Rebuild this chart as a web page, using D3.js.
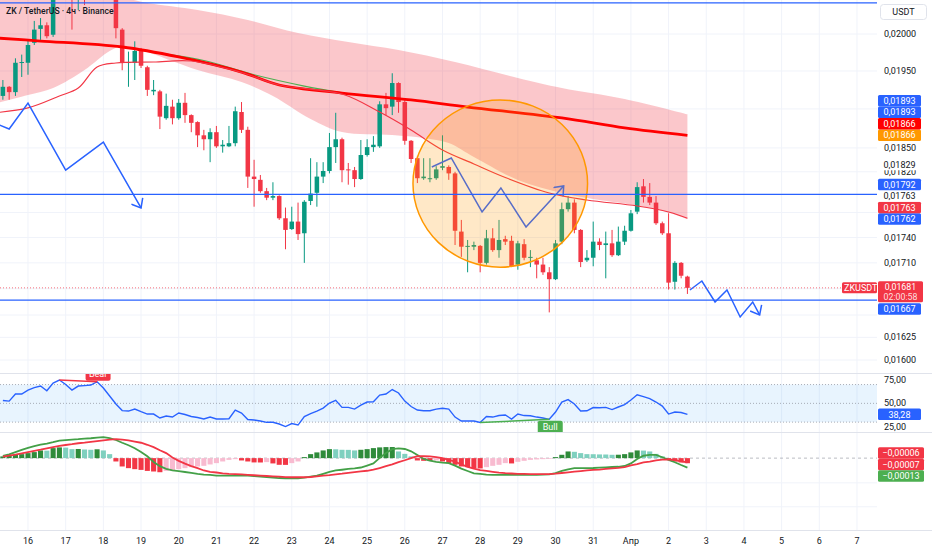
<!DOCTYPE html>
<html>
<head>
<meta charset="utf-8">
<script src="https://cdn.jsdelivr.net/npm/d3@7"></script>
<style>
  body { margin: 0; background: #fff; }
  svg { display: block; font-family: Roboto, "Noto Sans", "DejaVu Sans", sans-serif; }
</style>
</head>
<body>
<script>
// ---- data ----
// 4h bars are counted from 16 Mar 00:00 UTC, first candle is bar -4
var barZero = Date.UTC(2025, 2, 16);
var barMs = 4 * 3600 * 1000;
var firstBar = -4;

// [open, high, low, close]
var ohlc = [
  // 15 Mar
  [0.01917,0.01938,0.01912,0.01929],[0.01929,0.01930,0.01912,0.01922],[0.01922,0.01967,0.01917,0.01961],[0.01961,0.01972,0.01942,0.01962],
  // 16 Mar
  [0.01961,0.01992,0.01945,0.01985],[0.01988,0.02018,0.01985,0.02006],[0.02007,0.02022,0.01992,0.02012],[0.02012,0.02016,0.01994,0.01997],[0.01999,0.02082,0.01996,0.02068],[0.02068,0.02104,0.02064,0.02090],
  // 17 Mar
  [0.02090,0.02111,0.02068,0.02075],[0.02075,0.02082,0.02006,0.02051],[0.02051,0.02075,0.02033,0.02064],[0.02064,0.02075,0.02040,0.02054],[0.02054,0.02090,0.02050,0.02082],[0.02082,0.02111,0.02075,0.02097],
  // 18 Mar
  [0.02097,0.02104,0.02061,0.02075],[0.02075,0.02090,0.02051,0.02058],[0.02058,0.02061,0.01994,0.02008],[0.02006,0.02008,0.01951,0.01961],[0.01961,0.01976,0.01929,0.01962],[0.01961,0.01990,0.01938,0.01977],
  // 19 Mar
  [0.01978,0.01981,0.01954,0.01957],[0.01955,0.01957,0.01917,0.01925],[0.01923,0.01938,0.01918,0.01925],[0.01923,0.01925,0.01874,0.01890],[0.01888,0.01920,0.01886,0.01904],[0.01903,0.01912,0.01880,0.01888],
  // 20 Mar
  [0.01888,0.01913,0.01886,0.01908],[0.01908,0.01921,0.01882,0.01892],[0.01892,0.01893,0.01870,0.01882],[0.01883,0.01884,0.01851,0.01866],[0.01866,0.01873,0.01847,0.01861],[0.01861,0.01875,0.01832,0.01870],
  // 21 Mar
  [0.01870,0.01878,0.01850,0.01852],[0.01852,0.01860,0.01844,0.01854],[0.01852,0.01878,0.01851,0.01856],[0.01856,0.01903,0.01852,0.01897],[0.01896,0.01909,0.01869,0.01873],[0.01873,0.01877,0.01800,0.01814],
  // 22 Mar
  [0.01814,0.01835,0.01777,0.01811],[0.01810,0.01816,0.01794,0.01796],[0.01796,0.01800,0.01785,0.01788],[0.01788,0.01807,0.01785,0.01790],[0.01790,0.01791,0.01761,0.01763],[0.01763,0.01776,0.01726,0.01749],
  // 23 Mar
  [0.01750,0.01777,0.01749,0.01759],[0.01759,0.01782,0.01737,0.01744],[0.01745,0.01785,0.01710,0.01783],[0.01784,0.01837,0.01779,0.01793],[0.01794,0.01832,0.01777,0.01814],[0.01814,0.01832,0.01806,0.01821],
  // 24 Mar
  [0.01821,0.01869,0.01818,0.01851],[0.01851,0.01895,0.01831,0.01861],[0.01861,0.01863,0.01807,0.01822],[0.01823,0.01831,0.01804,0.01822],[0.01822,0.01826,0.01801,0.01811],[0.01811,0.01860,0.01810,0.01841],
  // 25 Mar
  [0.01841,0.01861,0.01839,0.01851],[0.01851,0.01865,0.01845,0.01854],[0.01852,0.01910,0.01850,0.01906],[0.01906,0.01921,0.01892,0.01901],[0.01903,0.01947,0.01892,0.01934],[0.01934,0.01935,0.01895,0.01909],
  // 26 Mar
  [0.01909,0.01912,0.01854,0.01859],[0.01859,0.01860,0.01831,0.01836],[0.01837,0.01840,0.01806,0.01812],[0.01812,0.01837,0.01810,0.01814],[0.01811,0.01837,0.01807,0.01812],[0.01812,0.01827,0.01810,0.01823],
  // 27 Mar
  [0.01825,0.01866,0.01822,0.01827],[0.01826,0.01828,0.01810,0.01818],[0.01818,0.01820,0.01731,0.01748],[0.01747,0.01761,0.01717,0.01729],[0.01729,0.01737,0.01699,0.01730],[0.01729,0.01735,0.01725,0.01731],
  // 28 Mar
  [0.01730,0.01731,0.01699,0.01710],[0.01710,0.01749,0.01708,0.01739],[0.01739,0.01751,0.01723,0.01725],[0.01725,0.01761,0.01716,0.01737],[0.01738,0.01742,0.01731,0.01735],[0.01736,0.01742,0.01705,0.01706],
  // 29 Mar
  [0.01708,0.01736,0.01702,0.01733],[0.01732,0.01738,0.01713,0.01716],[0.01716,0.01725,0.01705,0.01717],[0.01713,0.01716,0.01692,0.01708],[0.01708,0.01716,0.01696,0.01699],[0.01699,0.01705,0.01653,0.01691],
  // 30 Mar
  [0.01691,0.01737,0.01690,0.01733],[0.01735,0.01782,0.01732,0.01774],[0.01774,0.01790,0.01771,0.01782],[0.01782,0.01786,0.01745,0.01749],[0.01749,0.01750,0.01705,0.01711],[0.01713,0.01725,0.01711,0.01716],
  // 31 Mar
  [0.01716,0.01759,0.01706,0.01735],[0.01735,0.01739,0.01725,0.01731],[0.01731,0.01747,0.01692,0.01733],[0.01733,0.01749,0.01717,0.01719],[0.01719,0.01753,0.01718,0.01735],[0.01735,0.01754,0.01731,0.01748],
  // 1 Apr
  [0.01748,0.01773,0.01747,0.01769],[0.01771,0.01807,0.01768,0.01801],[0.01802,0.01811,0.01782,0.01789],[0.01789,0.01806,0.01779,0.01782],[0.01782,0.01790,0.01755,0.01757],[0.01757,0.01759,0.01743,0.01745],
  // 2 Apr
  [0.01745,0.01769,0.01679,0.01687],[0.01688,0.01712,0.01679,0.01710],[0.01710,0.01711,0.01692,0.01695],[0.01694,0.01695,0.01674,0.01681]
];

var rsi = [
  53.1, 52.4, 59.9, 59.9,
  64.1, 66.8, 68.4, 63.4, 71.6, 74.8,
  70, 64.1, 68.4, 68.9, 69.5, 73,
  66.3, 57.8, 49.3, 42.3, 41.8, 43.9,
  41.1, 38.6, 38.6, 34.4, 36.5, 35.4,
  39.7, 38.1, 36, 34.9, 33.3, 35.4,
  33.3, 33.3, 33.6, 42.9, 39.7, 32.8,
  32.2, 31.2, 29.8, 29.8, 28, 25.3,
  28.5, 26.9, 36, 39.1, 41.8, 45,
  50.3, 53.2, 45.7, 45.7, 43.9, 48.2,
  51.4, 51.7, 58.8, 59.9, 64.7, 61,
  52.4, 46.6, 42.9, 42.1, 42.1, 43.9,
  44.7, 43.9, 35.4, 31.2, 31.2, 31.2,
  29.6, 36, 35.4, 37, 37.6, 33.3,
  38.6, 37, 36.8, 35.4, 34.4, 33,
  40.7, 51.4, 54, 49.3, 41.8, 42.1,
  45.5, 45.3, 45.7, 43.4, 46.1, 48.7,
  53.5, 59.1, 57.2, 55.1, 51.4, 47.1,
  38.6, 40.7, 40.2, 38.28
];

// MACD values in units of 0.00001 USDT
var macdLine = [
  3.2, 5.3, 8.2, 11.3,
  14.2, 16.6, 18.5, 20.1, 21.9, 24.1,
  24.9, 25.6, 26.1, 26.8, 27.4, 28.2,
  28.9, 27.5, 25, 21.2, 17.7, 13.7,
  8.6, 2.5, -5.3, -11.1, -14.8, -17,
  -18, -19.1, -20.3, -21.6, -22.7, -23.2,
  -24.1, -24.1, -24.1, -24.1, -24.1, -24.1,
  -24.6, -25.4, -26.3, -26.8, -27.4, -27.7,
  -27.7, -27.7, -26.8, -25.4, -24.1, -21.6,
  -18.9, -17, -16, -14.9, -14, -12.9,
  -10.2, -7.3, 0.4, 7.1, 12.3, 13.4,
  12.6, 9.4, 4.3, -1.1, -3.6, -5.3,
  -6.2, -6.8, -10.4, -14.5, -17.7, -20.9,
  -21.7, -22.7, -23.1, -23.1, -23.1, -23.1,
  -23.1, -23.1, -23.1, -23.1, -22.7, -22.3,
  -20.6, -17.7, -15.5, -13.8, -13.8, -13.8,
  -13.6, -13.1, -12.6, -12.2, -11.9, -10.8,
  -7.3, -1.1, 3.3, 4.6, 4.6, 1.2,
  -2.5, -5.7, -9.5, -13
];
var signalLine = [
  2.1, 3.5, 4.8, 6.4,
  8.2, 10, 11.6, 13.4, 15.1, 16.9,
  18.1, 19.2, 20.5, 21.4, 22.5, 23.5,
  24.5, 25.6, 26.1, 25.4, 24.5, 22.8,
  21.2, 18.4, 15.1, 10.8, 6.9, 0.8,
  -3.7, -7.6, -10.9, -13.8, -17, -18.8,
  -19.8, -20.9, -21.7, -22, -22.5, -23.1,
  -23.6, -24.1, -24.6, -25, -25.6, -26.1,
  -26.3, -26.3, -26.3, -26, -25, -24.2,
  -23.4, -22.4, -21.4, -20.2, -19.2, -18.1,
  -17.4, -15.9, -13.6, -11.1, -8.6, -5.5,
  -2.9, -0.1, 2.6, 2.9, 2.4, 1.5,
  0, -2.4, -4.8, -8.7, -11.9, -14.5,
  -16.5, -17.6, -18.8, -19.9, -20.7, -21.2,
  -21.6, -21.7, -21.9, -22, -22.1, -22,
  -21.4, -20.5, -19.5, -18.5, -17.8, -17,
  -16.3, -15.8, -14.9, -14.1, -13.3, -12.3,
  -10, -8.3, -5.9, -4.7, -3, -2,
  -1.8, -2.8, -4.3, -6
];
var macdHist = [
  2.4, 3.2, 4.6, 5.5,
  6.9, 8.3, 10.6, 10.3, 13.8, 14.8,
  14.5, 12.4, 12.6, 11.9, 11.5, 12.2,
  10.6, 5.5, -4.6, -11.5, -13.8, -15.2,
  -16.2, -17.6, -18.4, -19.4, -17.6, -16.6,
  -15.2, -13.8, -12.4, -11.5, -10.6, -8.7,
  -6.9, -4.6, -2.4, -1.4, -3.2, -4.6,
  -5.9, -6.0, -5.5, -7.3, -9.2, -9.3,
  -6.9, -4.6, 1.4, 5.5, 7.9, 10.6,
  12.4, 12.2, 11.5, 11.4, 10.6, 11.5,
  12.4, 13.8, 14.8, 15.2, 15.3, 9.2,
  5.9, 2.4, -3.2, -3.7, -4.0, -3.2,
  -4.6, -6.9, -9.2, -11.5, -12.4, -13.8,
  -14.2, -12.4, -10.6, -9.2, -6.9, -7.3,
  -5.1, -3.7, -2.4, -1.8, -1.4, -1.0,
  1.4, 4.6, 9.2, 8.7, 6.9, 5.5,
  5.4, 5.1, 5.0, 4.6, 4.7, 5.5,
  7.9, 10.6, 10.4, 9.2, 5.9, 2.4,
  -2.4, -4.6, -5.9, -7
];

// overlay lines as [bar, price]
var maSlow = [[-5,0.019945],[2,0.019904],[15,0.019823],[24,0.019688],[34,0.019486],[40,0.019314],[50,0.019208],[61,0.019117],[70,0.019025],[85,0.018883],[95,0.018754],[105,0.01866]];
var maGreen = [[20,0.01975],[28,0.01964],[36,0.01945],[44,0.01930],[50,0.01921]];
var emaFast = [[-5,0.018953],[0,0.019013],[5,0.019169],[8,0.019274],[11,0.019553],[14,0.019607],[20,0.01962],[26,0.019634],[34,0.01948],[40,0.019314],[50,0.019195],[56,0.01896],[61,0.018728],[66,0.018474],[71,0.018298],[76,0.018129],[83,0.017938],[89,0.017852],[97,0.017779],[102,0.017706],[105,0.01763]];
var bandTop = [[-5,0.020541],[15,0.020499],[19,0.020429],[27,0.020331],[35,0.020193],[43,0.020014],[51,0.019891],[59,0.019782],[68,0.01962],[78,0.019407],[85,0.019274],[95,0.01913],[105,0.01893]];
var bandBottom = [[-5,0.019077],[0,0.019182],[4,0.019274],[9,0.019513],[13,0.019769],[15,0.019837],[18,0.019782],[27,0.019513],[34,0.019353],[39,0.019169],[45,0.01887],[50,0.018702],[58,0.018664],[63,0.018626],[67,0.018562],[71,0.018385],[78,0.018098],[85,0.017938],[89,0.017877],[100,0.017742],[105,0.01762]];

// drawings
var hLevels = [0.02043, 0.01792, 0.01667];
var zigA = [[-4.5,0.01879],[-3,0.018741],[0,0.019077],[6,0.018222],[12,0.018574],[18,0.017755]];
var zigB = [[64.3,0.01826],[67.4,0.018373],[72.3,0.017706],[75.3,0.018],[79.3,0.017525],[85.3,0.018024]];
var zigC = [[105.4,0.016785],[107.3,0.016889],[109.4,0.016648],[111.3,0.016785],[113.4,0.016478],[115.4,0.016648],[116.5,0.016501]];
var circleBar = 75.2, circleHalfBars = 13.9, circleTop = 0.019117, circleBottom = 0.01705;

// axes
var priceTicks = [0.0200, 0.0195, 0.0190, 0.0185, 0.0182, 0.0177, 0.0174, 0.0171, 0.0168, 0.0165, 0.01625, 0.0160];
var rsiBands = [70, 50, 30];
var rsiTicks = [75, 50, 25];
var macdGrid = [-34, -67];
var dayLabels = ["16","17","18","19","20","21","22","23","24","25","26","27","28","29","30","31","Апр","2","3","4","5","6","7"];
var bearDiv = [5, 11], bullDiv = [72, 83];

// price-scale badges, bottom to top
var badgeValues = [0.01762, 0.01763, 0.01763, 0.01792, 0.01829, 0.01866, 0.01866, 0.01893, 0.01893];
var badgeKinds  = ["level", "ema", "plain", "level", "plain", "maAlt", "ma", "level", "level"];
var lastLevel = 0.01667;
var countdown = "02:00:58";
var title = "ZK / TetherUS · 4ч · Binance";

// ---- layout ----
var W = 932, H = 550, plotW = 877;
var mainBottom = 373, rsiBottom = 432, macdBottom = 530;
var ink = "#131722", grid = "#f0f3fa", up = "#089981", down = "#f23645", blue = "#2962ff";
var kindColor = { level: [blue, "#fff"], ema: ["#f23645", "#fff"], plain: ["#fff", ink], ma: ["#ff0000", "#fff"], maAlt: ["#ff9800", "#fff"] };
var badgeH = 11.5;

function barTime(k) { return new Date(barZero + k * barMs); }
var fmtPrice = function(v) { return d3.format(".5f")(v).replace(".", ","); };

var x = d3.scaleUtc()
  .domain([new Date(Date.UTC(2025, 2, 15, 6, 10)), new Date(Date.UTC(2025, 3, 7, 12, 45))])
  .range([0, plotW]);
var y = d3.scaleLog().domain([0.016, 0.02]).range([360, 34]);
var yRsi = d3.scaleLinear().domain([19.5, 82.3]).range([rsiBottom, mainBottom]);
var yMacd = d3.scaleLinear().domain([-99, 36]).range([macdBottom, rsiBottom]);
var bx = function(k) { return x(barTime(k)); };
var step = bx(1) - bx(0);

var svg = d3.select("body").append("svg").attr("width", W).attr("height", H);
var defs = svg.append("defs");
function clip(id, y0, y1) {
  defs.append("clipPath").attr("id", id).append("rect")
    .attr("x", 0).attr("y", y0).attr("width", plotW).attr("height", y1 - y0);
}
clip("cMain", 0, mainBottom); clip("cRsi", mainBottom, rsiBottom); clip("cMacd", rsiBottom, macdBottom);
defs.append("marker").attr("id", "arrow").attr("viewBox", "0 0 14 14")
  .attr("refX", 12).attr("refY", 7).attr("markerWidth", 14).attr("markerHeight", 14)
  .attr("markerUnits", "userSpaceOnUse").attr("orient", "auto")
  .append("path").attr("d", "M4,0.5 L12,7 L4,13.5")
  .attr("fill", "none").attr("stroke", blue).attr("stroke-width", 1.5);

// grid
var days = dayLabels.map(function(d, i) { return new Date(barZero + i * 864e5); });
svg.append("g").selectAll("line").data(days).join("line")
  .attr("x1", function(d) { return x(d); }).attr("x2", function(d) { return x(d); })
  .attr("y1", 0).attr("y2", macdBottom).attr("stroke", grid);
svg.append("g").selectAll("line").data(priceTicks).join("line")
  .attr("x1", 0).attr("x2", plotW).attr("y1", function(d) { return y(d); }).attr("y2", function(d) { return y(d); })
  .attr("stroke", grid);
svg.append("g").selectAll("line").data(macdGrid).join("line")
  .attr("x1", 0).attr("x2", plotW).attr("y1", function(d) { return yMacd(d); }).attr("y2", function(d) { return yMacd(d); })
  .attr("stroke", grid);

// ---- main pane ----
var main = svg.append("g").attr("clip-path", "url(#cMain)");
var smooth = d3.line().x(function(d) { return bx(d[0]); }).y(function(d) { return y(d[1]); }).curve(d3.curveCatmullRom.alpha(0.5));
var straight = d3.line().x(function(d) { return bx(d[0]); }).y(function(d) { return y(d[1]); });

main.append("path")
  .attr("d", smooth(bandTop) + "L" + smooth(bandBottom.slice().reverse()).slice(1) + "Z")
  .attr("fill", "rgba(242,54,69,0.28)");

var candles = main.append("g").selectAll("g").data(ohlc).join("g");
candles.append("line")
  .attr("x1", function(d, i) { return bx(firstBar + i); }).attr("x2", function(d, i) { return bx(firstBar + i); })
  .attr("y1", function(d) { return y(d[1]); }).attr("y2", function(d) { return y(d[2]); })
  .attr("stroke", function(d) { return d[3] >= d[0] ? up : down; }).attr("stroke-width", 1);
candles.append("rect")
  .attr("x", function(d, i) { return bx(firstBar + i) - step * 0.36; })
  .attr("width", step * 0.72)
  .attr("y", function(d) { return y(Math.max(d[0], d[3])); })
  .attr("height", function(d) { return Math.max(1, y(Math.min(d[0], d[3])) - y(Math.max(d[0], d[3]))); })
  .attr("fill", function(d) { return d[3] >= d[0] ? up : down; });

main.append("path").attr("d", smooth(maGreen)).attr("fill", "none").attr("stroke", "#4caf50").attr("stroke-width", 1.2);
main.append("path").attr("d", smooth(maSlow)).attr("fill", "none").attr("stroke", "#ff0000").attr("stroke-width", 2.8);
main.append("path").attr("d", smooth(emaFast)).attr("fill", "none").attr("stroke", "#f23645").attr("stroke-width", 1.2);

main.append("path").attr("d", straight(zigB)).attr("fill", "none").attr("stroke", blue)
  .attr("stroke-width", 1.5).attr("marker-end", "url(#arrow)");

var cx = bx(circleBar), cyTop = y(circleTop), cyBot = y(circleBottom);
main.append("ellipse").attr("cx", cx).attr("cy", (cyTop + cyBot) / 2)
  .attr("rx", bx(circleBar + circleHalfBars) - cx).attr("ry", (cyBot - cyTop) / 2)
  .attr("fill", "rgba(255,152,0,0.22)").attr("stroke", "#ff9800").attr("stroke-width", 1.5);

main.append("g").selectAll("line").data(hLevels).join("line")
  .attr("x1", 0).attr("x2", plotW).attr("y1", function(d) { return y(d); }).attr("y2", function(d) { return y(d); })
  .attr("stroke", blue).attr("stroke-width", 1.3);

[zigA, zigC].forEach(function(z) {
  main.append("path").attr("d", straight(z)).attr("fill", "none").attr("stroke", blue)
    .attr("stroke-width", 1.5).attr("marker-end", "url(#arrow)");
});

var last = ohlc[ohlc.length - 1][3];
main.append("line").attr("x1", 0).attr("x2", plotW).attr("y1", y(last)).attr("y2", y(last))
  .attr("stroke", down).attr("stroke-opacity", 0.7).attr("stroke-dasharray", "1,2");

svg.append("text").attr("x", 6).attr("y", 14).attr("font-size", 8.6).attr("font-weight", 500)
  .attr("fill", ink).text(title);

// ---- RSI pane ----
var rsiG = svg.append("g").attr("clip-path", "url(#cRsi)");
rsiG.append("rect").attr("x", 0).attr("width", plotW)
  .attr("y", yRsi(rsiBands[0])).attr("height", yRsi(rsiBands[2]) - yRsi(rsiBands[0]))
  .attr("fill", "rgba(33,150,243,0.1)");
rsiG.append("g").selectAll("line").data(rsiBands).join("line")
  .attr("x1", 0).attr("x2", plotW).attr("y1", function(d) { return yRsi(d); }).attr("y2", function(d) { return yRsi(d); })
  .attr("stroke", "#787b86").attr("stroke-opacity", 0.6).attr("stroke-dasharray", "1,2");
rsiG.append("path")
  .attr("d", d3.line().x(function(d, i) { return bx(firstBar + i); }).y(function(d) { return yRsi(d); })(rsi))
  .attr("fill", "none").attr("stroke", blue).attr("stroke-width", 1.4);

function divergence(pair, color, label, above) {
  var p = pair.map(function(k) { return [bx(k), yRsi(rsi[k - firstBar])]; });
  rsiG.append("line").attr("x1", p[0][0]).attr("y1", p[0][1]).attr("x2", p[1][0]).attr("y2", p[1][1])
    .attr("stroke", color).attr("stroke-width", 1.5);
  var bw = 25, bh = 13, by = above ? p[1][1] - bh - 1 : p[1][1] + 1.5;
  rsiG.append("rect").attr("x", p[1][0] - bw / 2 + 1).attr("y", by).attr("width", bw).attr("height", bh)
    .attr("rx", 2).attr("fill", color);
  rsiG.append("text").attr("x", p[1][0] + 1).attr("y", by + bh / 2).attr("dy", "0.35em")
    .attr("text-anchor", "middle").attr("font-size", 9).attr("fill", "#fff").text(label);
}
divergence(bearDiv, "#f23645", "Bear", true);
divergence(bullDiv, "#4caf50", "Bull", false);

// ---- MACD pane ----
var macdG = svg.append("g").attr("clip-path", "url(#cMacd)");
macdG.append("line").attr("x1", 0).attr("x2", plotW).attr("y1", yMacd(0)).attr("y2", yMacd(0))
  .attr("stroke", "#787b86").attr("stroke-opacity", 0.5).attr("stroke-dasharray", "3,3");
macdG.append("g").selectAll("rect").data(macdHist).join("rect")
  .attr("x", function(d, i) { return bx(firstBar + i) - step / 2 + 0.6; })
  .attr("width", step - 1.2)
  .attr("y", function(d) { return yMacd(Math.max(0, d)); })
  .attr("height", function(d) { return Math.abs(yMacd(d) - yMacd(0)); })
  .attr("fill", function(d, i) {
    var prev = i ? macdHist[i - 1] : 0;
    if (d >= 0) return d >= prev ? "#2e8b3a" : "#7fd0bf";
    return d <= prev ? "#f23645" : "#f8bbd0";
  });
var macdPath = d3.line().x(function(d, i) { return bx(firstBar + i); }).y(function(d) { return yMacd(d); });
macdG.append("path").attr("d", macdPath(macdLine)).attr("fill", "none").attr("stroke", "#43a047").attr("stroke-width", 1.8);
macdG.append("path").attr("d", macdPath(signalLine)).attr("fill", "none").attr("stroke", "#f23645").attr("stroke-width", 1.8);

// separators
svg.append("g").selectAll("line").data([mainBottom, rsiBottom, macdBottom]).join("line")
  .attr("x1", 0).attr("x2", W).attr("y1", function(d) { return d + 0.5; }).attr("y2", function(d) { return d + 0.5; })
  .attr("stroke", "#e0e3eb");

// ---- time axis ----
svg.append("g").selectAll("text").data(days).join("text")
  .attr("x", function(d) { return x(d); }).attr("y", 543.5).attr("text-anchor", "middle")
  .attr("font-size", 9).attr("fill", ink).text(function(d, i) { return dayLabels[i]; });

// ---- price scale ----
var axis = svg.append("g").attr("font-size", 9);
var tickLayer = axis.append("g"), badgeLayer = axis.append("g");

function badge(cy, text, bg, fg, w) {
  badgeLayer.append("rect").attr("x", 878).attr("y", cy - badgeH / 2).attr("width", w || 43).attr("height", badgeH)
    .attr("rx", 1.5).attr("fill", bg);
  badgeLayer.append("text").attr("x", 878 + (w || 43) / 2).attr("y", cy).attr("dy", "0.35em")
    .attr("text-anchor", "middle").attr("fill", fg).text(text);
}

var covered = []; // [top, bottom] spans taken by badges in the price pane

// stack colliding badges upward from the lowest one
var prevY = Infinity;
badgeValues.forEach(function(v, i) {
  var cy = Math.min(y(v), prevY - badgeH);
  prevY = cy;
  covered.push([cy - badgeH / 2, cy + badgeH / 2]);
  badge(cy, fmtPrice(v), kindColor[badgeKinds[i]][0], kindColor[badgeKinds[i]][1]);
});

// last price: two-line badge, the level under it is pushed down
var lpTop = y(last) - 6.5, lpH = 21;
badgeLayer.append("rect").attr("x", 878).attr("y", lpTop).attr("width", 45).attr("height", lpH).attr("rx", 1.5).attr("fill", down);
badgeLayer.append("text").attr("x", 900.5).attr("y", lpTop + 5.2).attr("dy", "0.35em").attr("text-anchor", "middle")
  .attr("font-size", 8.8).attr("fill", "#fff").text(fmtPrice(last));
badgeLayer.append("text").attr("x", 900.5).attr("y", lpTop + 15.8).attr("dy", "0.35em").attr("text-anchor", "middle")
  .attr("font-size", 8.8).attr("fill", "#fff").attr("fill-opacity", 0.85).text(countdown);
covered.push([lpTop, lpTop + lpH]);
var llY = Math.max(y(lastLevel), lpTop + lpH + badgeH / 2 + 1);
covered.push([llY - badgeH / 2, llY + badgeH / 2]);
badge(llY, fmtPrice(lastLevel), blue, "#fff");

// tick labels whose centre sits under a badge are not shown
tickLayer.selectAll("text").data(priceTicks.filter(function(t) {
    var ty = y(t);
    return !covered.some(function(c) { return ty >= c[0] - 0.5 && ty <= c[1] + 0.5; });
  })).join("text")
  .attr("x", 884).attr("y", function(d) { return y(d); }).attr("dy", "0.35em")
  .attr("fill", ink).text(fmtPrice);
tickLayer.selectAll("text.rtick").data(rsiTicks).join("text").attr("class", "rtick")
  .attr("x", 884).attr("y", function(d) { return yRsi(d); }).attr("dy", "0.35em")
  .attr("fill", ink).text(function(d) { return d3.format(".2f")(d).replace(".", ","); });

badgeLayer.append("rect").attr("x", 880.5).attr("y", 4.5).attr("width", 46).attr("height", 15).attr("rx", 3)
  .attr("fill", "#fff").attr("stroke", "#e0e3eb");
badgeLayer.append("text").attr("x", 903.5).attr("y", 12).attr("dy", "0.35em").attr("text-anchor", "middle")
  .attr("fill", ink).text("USDT");

svg.append("rect").attr("x", plotW - 35).attr("y", y(last) - 5.5).attr("width", 35).attr("height", 11).attr("rx", 1.5).attr("fill", down);
svg.append("text").attr("x", plotW - 33).attr("y", y(last)).attr("dy", "0.35em").attr("font-size", 9)
  .attr("fill", "#fff").text("ZKUSDT");

// RSI badge
badge(yRsi(rsi[rsi.length - 1]), d3.format(".2f")(rsi[rsi.length - 1]).replace(".", ","), blue, "#fff");

// MACD badges: one cluster centred on the true positions
var mb = [
  { v: signalLine[signalLine.length - 1], bg: "#f23645" },
  { v: macdHist[macdHist.length - 1], bg: "#f23645" },
  { v: macdLine[macdLine.length - 1], bg: "#4caf50" }
];
var mMean = d3.mean(mb, function(d) { return yMacd(d.v); });
mb.forEach(function(d, i) {
  badge(mMean + (i - 1) * badgeH, d3.format(".5f")(d.v * 1e-5).replace(".", ","), d.bg, "#fff", 46);
});
</script>
</body>
</html>
